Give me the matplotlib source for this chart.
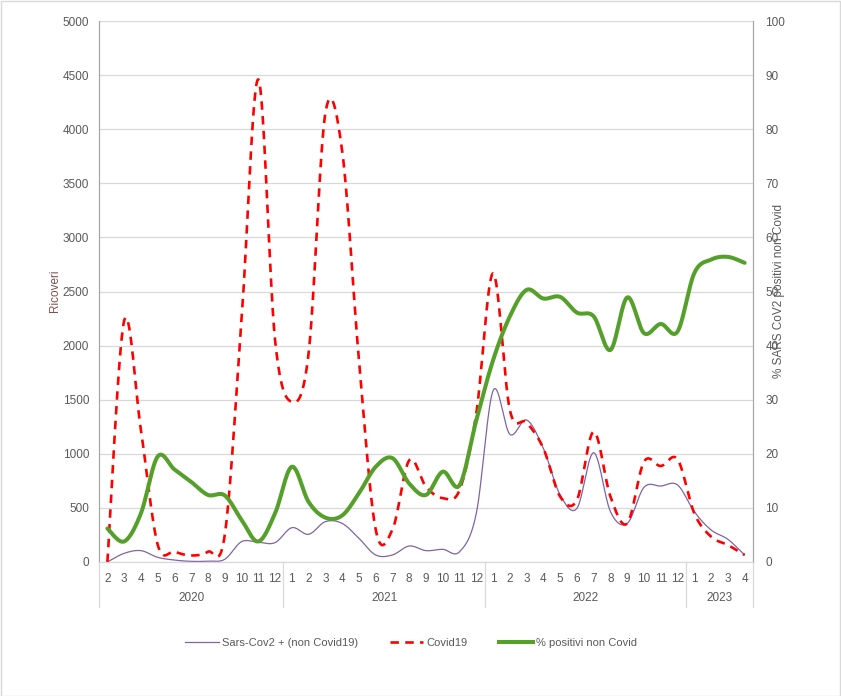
import numpy as np
import matplotlib
matplotlib.use("Agg")
import matplotlib.pyplot as plt
from matplotlib.lines import Line2D
from matplotlib.patches import Rectangle
import matplotlib.transforms as mtransforms

plt.rcParams['font.family'] = ['Liberation Sans', 'DejaVu Sans']

# ---------------- data ----------------
years = ["2020", "2021", "2022", "2023"]
months_per_year = [list(range(2, 13)), list(range(1, 13)), list(range(1, 13)), list(range(1, 5))]
month_labels = [str(m) for ms in months_per_year for m in ms]

sars_cov2 = [0, 80, 105, 43, 18, 6, 8, 25, 188, 182, 179,
             317, 256, 373, 357, 219, 65, 65, 148, 105, 117, 95, 450,
             1583, 1180, 1312, 1050, 620, 496, 1010, 465, 357, 690, 702, 712,
             465, 296, 210, 65]
covid19 = [0, 2230, 1220, 160, 95, 60, 95, 250, 2235, 4460, 2050,
           1480, 1930, 4150, 3800, 1870, 300, 300, 940, 695, 590, 665, 1375,
           2668, 1405, 1288, 1050, 604, 573, 1204, 604, 357, 927, 887, 949,
           450, 234, 157, 65]
perc_pos = [6.2, 3.8, 9.0, 19.5, 17.1, 14.8, 12.4, 12.3, 7.8, 3.8, 9.0,
            17.6, 11.1, 8.2, 8.6, 12.7, 17.6, 19.2, 14.5, 12.4, 16.7, 14.2, 26.2,
            37.3, 45.4, 50.3, 48.7, 49.0, 46.1, 45.4, 39.2, 48.9, 42.3, 44.0, 42.6,
            53.4, 55.9, 56.4, 55.3]

series_labels = ["Sars-Cov2 + (non Covid19)", "Covid19", "% positivi non Covid"]


def smooth(y, n=30):
    """Excel-like smoothed line (Catmull-Rom Bezier)."""
    y = np.asarray(y, float)
    x = np.arange(len(y), dtype=float)
    px = np.concatenate([[x[0]], x, [x[-1]]])
    py = np.concatenate([[y[0]], y, [y[-1]]])
    xs, ys = [], []
    t = np.linspace(0, 1, n, endpoint=False)
    for i in range(1, len(px) - 2):
        p0x, p1x, p2x, p3x = px[i - 1], px[i], px[i + 1], px[i + 2]
        p0y, p1y, p2y, p3y = py[i - 1], py[i], py[i + 1], py[i + 2]
        c1x = p1x + (p2x - p0x) / 6
        c1y = p1y + (p2y - p0y) / 6
        c2x = p2x - (p3x - p1x) / 6
        c2y = p2y - (p3y - p1y) / 6
        b0 = (1 - t) ** 3
        b1 = 3 * (1 - t) ** 2 * t
        b2 = 3 * (1 - t) * t ** 2
        b3 = t ** 3
        xs.append(b0 * p1x + b1 * c1x + b2 * c2x + b3 * p2x)
        ys.append(b0 * p1y + b1 * c1y + b2 * c2y + b3 * p2y)
    xs.append([x[-1]])
    ys.append([y[-1]])
    return np.concatenate(xs), np.concatenate(ys)


# ---------------- figure ----------------
W, H = 841, 696
fig = plt.figure(figsize=(W / 100, H / 100), dpi=100)
fig.patches.append(Rectangle((0.5 / W, 0.5 / H), 1 - 1.5 / W, 1 - 1.5 / H,
                             transform=fig.transFigure, fill=False,
                             edgecolor='#D9D9D9', linewidth=1.0))

L, R, T, B = 99, 753, 21, 562
ax = fig.add_axes([L / W, 1 - B / H, (R - L) / W, (B - T) / H])
ax2 = ax.twinx()

grey_txt = '#595959'
purple = '#8064A2'
red = '#FF0000'
green = '#55A02A'

n = len(month_labels)
ax.set_xlim(-0.5, n - 0.5)
ax.set_ylim(0, 5000)
ax.set_yticks(np.arange(0, 5001, 500))
ax.yaxis.grid(True, color='#D9D9D9', linewidth=0.9)
ax.set_axisbelow(True)
ax2.set_ylim(0, 100)
ax2.set_yticks(np.arange(0, 101, 10))

for a in (ax, ax2):
    a.spines['top'].set_visible(False)
    a.spines['bottom'].set_color('#D9D9D9')
    a.spines['left'].set_color('#A6A6A6')
    a.spines['right'].set_color('#A6A6A6')
    a.tick_params(axis='y', length=0, labelsize=8.5, labelcolor=grey_txt)

ax.tick_params(axis='y', pad=7)
ax2.tick_params(axis='y', pad=9)

ax.set_xticks(range(n))
ax.set_xticklabels(month_labels, fontsize=8.5, color=grey_txt)
ax.tick_params(axis='x', length=0, pad=8)

# lines
sx, sy = smooth(sars_cov2)
ax.plot(sx, sy, color=purple, linewidth=0.9, solid_capstyle='round')
cx, cy = smooth(covid19)
ax.plot(cx, cy, color=red, linewidth=1.9, dashes=(3.2, 2.4))
gx, gy = smooth(perc_pos)
ax2.plot(gx, gy, color=green, linewidth=2.9, solid_capstyle='round')

# year level of category axis
trans = mtransforms.blended_transform_factory(ax.transData, ax.transAxes)
start = 0
bounds = [-0.5]
for yr, ms in zip(years, months_per_year):
    end = start + len(ms)
    ax.text((start + end - 1) / 2, -36 / (B - T), yr, transform=trans,
            ha='center', va='center', fontsize=8.5, color=grey_txt)
    bounds.append(end - 0.5)
    start = end
depth = 45 / (B - T)
for bx in bounds:
    ax.plot([bx, bx], [0, -depth], transform=trans, color='#D9D9D9',
            linewidth=0.9, clip_on=False)

# axis titles
fig.text(55 / W, 1 - 291 / H, "Ricoveri", rotation=90, ha='center', va='center',
         fontsize=8.5, color='#7F5050')
fig.text(779 / W, 1 - 291 / H, "% SARS CoV2 positivi non Covid", rotation=90,
         ha='center', va='center', fontsize=8.5, color=grey_txt)

# legend
handles = [Line2D([], [], color=purple, linewidth=0.9),
           Line2D([], [], color=red, linewidth=1.9, dashes=(3.2, 2.4)),
           Line2D([], [], color=green, linewidth=2.9)]
leg = fig.legend(handles, series_labels, loc='center', ncol=3,
                 bbox_to_anchor=(411 / W, 1 - 643 / H), frameon=False,
                 fontsize=8, handlelength=3.0, handletextpad=0.25,
                 columnspacing=2.9)
for t in leg.get_texts():
    t.set_color(grey_txt)

fig.savefig("out.png", dpi=100)
